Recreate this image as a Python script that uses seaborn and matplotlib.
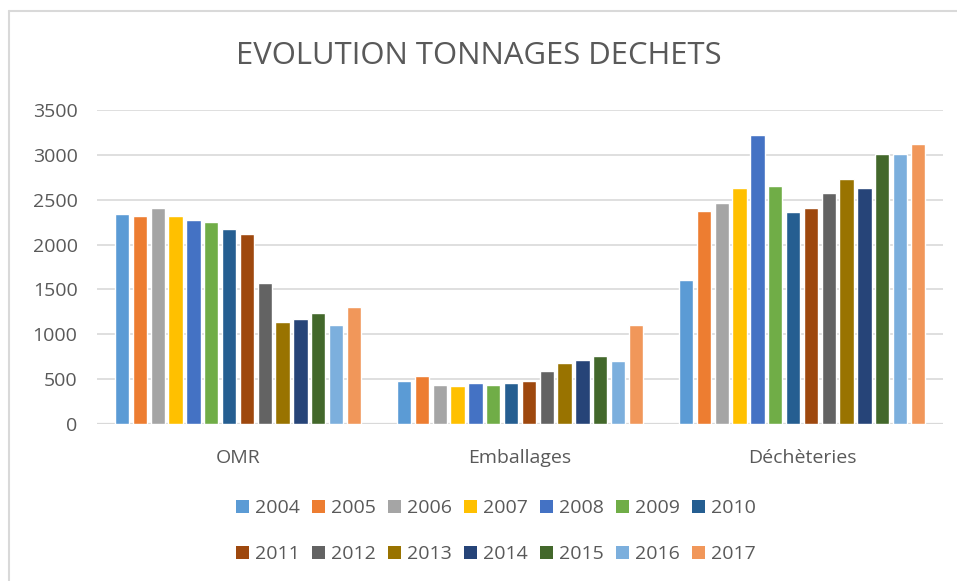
import matplotlib
matplotlib.use("Agg")
import matplotlib.pyplot as plt
import seaborn as sns
import pandas as pd
from matplotlib.patches import Patch
from matplotlib.lines import Line2D

categories = ["OMR", "Emballages", "Déchèteries"]
years = ["2004", "2005", "2006", "2007", "2008", "2009", "2010",
         "2011", "2012", "2013", "2014", "2015", "2016", "2017"]
omr = [2343, 2317, 2403, 2317, 2272, 2257, 2172, 2119, 1567, 1138, 1168, 1239, 1108, 1299]
emballages = [480, 536, 435, 420, 461, 435, 461, 480, 596, 682, 712, 754, 697, 1099]
decheteries = [1610, 2374, 2460, 2631, 3220, 2657, 2359, 2404, 2575, 2728, 2631, 3004, 3004, 3120]
colors = ["#5B9BD5", "#ED7D31", "#A5A5A5", "#FFC000", "#4472C4", "#70AD47", "#255E91",
          "#9E480E", "#636363", "#997300", "#264478", "#43682B", "#7CAFDD", "#F1975A"]
yticks = [0, 500, 1000, 1500, 2000, 2500, 3000, 3500]

rows = []
for cat, vals in zip(categories, [omr, emballages, decheteries]):
    for y, v in zip(years, vals):
        rows.append({"cat": cat, "year": y, "value": v})
df = pd.DataFrame(rows)

sns.set_style("white")
plt.rcParams["font.family"] = ["Open Sans", "DejaVu Sans"]
text_color = "#595959"
grid_color = "#D9D9D9"

fig = plt.figure(figsize=(9.57, 5.81), dpi=100)
ax = fig.add_axes([97 / 957, 1 - 424 / 581, (943 - 97) / 957, (424 - 110) / 581])

sns.barplot(data=df, x="cat", y="value", hue="year", order=categories, hue_order=years,
            palette=colors, saturation=1, width=0.885, gap=0.2, ax=ax, legend=False,
            errorbar=None)

ax.set_ylim(0, 3500)
ax.set_xlim(-0.5, 2.5)
ax.set_yticks(yticks)
ax.set_yticklabels([str(t) for t in yticks])
ax.yaxis.grid(True, color=grid_color, linewidth=1.2)
ax.set_axisbelow(True)
for s in ax.spines.values():
    s.set_visible(False)
ax.axhline(0, color=grid_color, linewidth=1.6, zorder=0.5)
ax.tick_params(axis="both", length=0, labelsize=14, labelcolor=text_color)
ax.tick_params(axis="y", pad=14)
ax.tick_params(axis="x", pad=18)
ax.set_xlabel("")
ax.set_ylabel("")

fig.text(0.5, 1 - 56 / 581, "EVOLUTION TONNAGES DECHETS", ha="center", va="center",
         fontsize=22.3, color=text_color, fontweight="normal")

# reorder so that the 2-row legend reads row by row
ncol = 7
order = []
for c in range(ncol):
    for r in range(2):
        order.append(r * ncol + c)
handles = [Patch(facecolor=colors[i], edgecolor="none") for i in order]
labels = [years[i] for i in order]
fig.legend(handles, labels, loc="center", bbox_to_anchor=(496 / 957, 1 - 531 / 581), ncol=ncol,
           frameon=False, fontsize=14, labelcolor=text_color, handlelength=0.65,
           handleheight=0.65, handletextpad=0.3, columnspacing=0.65, labelspacing=1.45)

fig.add_artist(Line2D([9 / 957, 9 / 957], [0, 1 - 11 / 581], transform=fig.transFigure,
                      color=grid_color, linewidth=1.5))
fig.add_artist(Line2D([9 / 957, 1], [1 - 11 / 581, 1 - 11 / 581], transform=fig.transFigure,
                      color=grid_color, linewidth=1.5))

fig.savefig("out.png", dpi=100, facecolor="white")
